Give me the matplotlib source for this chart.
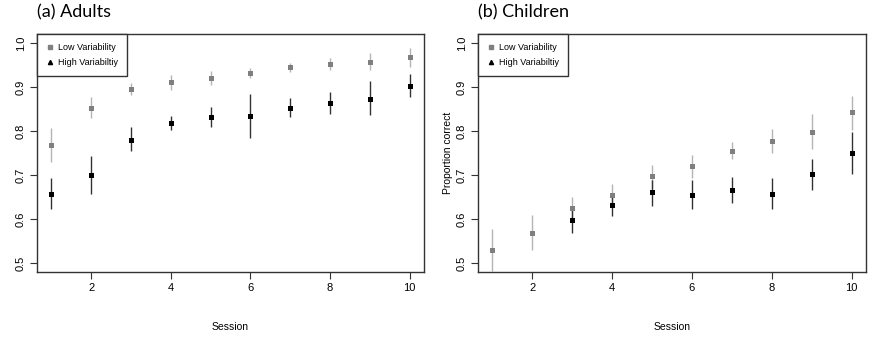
import numpy as np
import matplotlib
matplotlib.use("Agg")
import matplotlib.pyplot as plt
from matplotlib.lines import Line2D

plt.rcParams['font.family'] = ['Liberation Sans', 'DejaVu Sans']

sessions = np.arange(1, 11)

# adults
adult_low = [0.769, 0.853, 0.895, 0.910, 0.920, 0.932, 0.944, 0.952, 0.957, 0.967]
adult_low_hi = [0.807, 0.877, 0.909, 0.926, 0.935, 0.943, 0.955, 0.966, 0.976, 0.989]
adult_low_lo = [0.729, 0.830, 0.881, 0.892, 0.905, 0.920, 0.933, 0.939, 0.938, 0.945]
adult_high = [0.658, 0.699, 0.780, 0.817, 0.832, 0.835, 0.852, 0.864, 0.873, 0.903]
adult_high_hi = [0.693, 0.743, 0.808, 0.833, 0.855, 0.885, 0.875, 0.889, 0.914, 0.930]
adult_high_lo = [0.623, 0.657, 0.754, 0.802, 0.809, 0.784, 0.831, 0.838, 0.836, 0.877]

# children (high variability sessions 1-2 not visible in the figure)
child_low = [0.530, 0.568, 0.625, 0.654, 0.698, 0.720, 0.755, 0.777, 0.798, 0.842]
child_low_hi = [0.578, 0.609, 0.650, 0.680, 0.723, 0.746, 0.774, 0.805, 0.839, 0.880]
child_low_lo = [0.483, 0.529, 0.601, 0.627, 0.670, 0.693, 0.736, 0.749, 0.760, 0.802]
child_high = [np.nan, np.nan, 0.597, 0.633, 0.661, 0.655, 0.665, 0.658, 0.702, 0.749]
child_high_hi = [np.nan, np.nan, 0.623, 0.659, 0.688, 0.689, 0.695, 0.693, 0.736, 0.797]
child_high_lo = [np.nan, np.nan, 0.568, 0.606, 0.629, 0.623, 0.636, 0.623, 0.665, 0.702]

legend_labels = ["Low Variability", "High Variabiltiy"]
titles = ["(a) Adults", "(b) Children"]

fig = plt.figure(figsize=(8.71, 3.4), dpi=100)
ax1 = fig.add_axes([37/871, 0.2, 387/871, 0.7])
ax2 = fig.add_axes([478/871, 0.2, 388/871, 0.7])


def draw(ax, low, low_lo, low_hi, high, high_lo, high_hi):
    low = np.array(low); high = np.array(high)
    ax.errorbar(sessions, low, yerr=[low - np.array(low_lo), np.array(low_hi) - low],
                fmt='s', color='#7f7f7f', ecolor='#b4b4b4', elinewidth=1,
                capsize=1, markersize=3.6, markeredgewidth=0)
    ax.errorbar(sessions, high, yerr=[high - np.array(high_lo), np.array(high_hi) - high],
                fmt='s', color='black', ecolor='#333333', elinewidth=1,
                capsize=1, markersize=3.6, markeredgewidth=0)
    ax.set_xlim(0.64, 10.36)
    ax.set_ylim(0.48, 1.02)
    ax.set_xticks([2, 4, 6, 8, 10])
    ax.set_yticks([0.5, 0.6, 0.7, 0.8, 0.9, 1.0])
    ax.set_yticklabels(['0.5', '0.6', '0.7', '0.8', '0.9', '1.0'], rotation=90, va='center')
    ax.tick_params(length=5, width=0.8, color='#333333', labelsize=8, pad=3)
    for s in ax.spines.values():
        s.set_linewidth(1)
        s.set_color('#333333')
    ax.set_xlabel("Session", fontsize=7.5, labelpad=21)
    handles = [Line2D([], [], marker='s', ls='none', color='#7f7f7f', markersize=3),
               Line2D([], [], marker='^', ls='none', color='black', markersize=3)]
    leg = ax.legend(handles, legend_labels, loc='upper left', fontsize=6.5,
                    frameon=True, fancybox=False, edgecolor='#333333', framealpha=1,
                    borderaxespad=0, handlelength=0.8, handletextpad=0.5,
                    borderpad=1.0, labelspacing=0.7)
    leg.get_frame().set_linewidth(1)


draw(ax1, adult_low, adult_low_lo, adult_low_hi, adult_high, adult_high_lo, adult_high_hi)
draw(ax2, child_low, child_low_lo, child_low_hi, child_high, child_high_lo, child_high_hi)
ax2.set_ylabel("Proportion correct", fontsize=7.5, labelpad=3)

fig.text(37/871, 1 - 12/340, titles[0], fontsize=13, family='Lato', va='center', ha='left')
fig.text(478/871, 1 - 12/340, titles[1], fontsize=13, family='Lato', va='center', ha='left')

fig.savefig("out.png", dpi=100)
